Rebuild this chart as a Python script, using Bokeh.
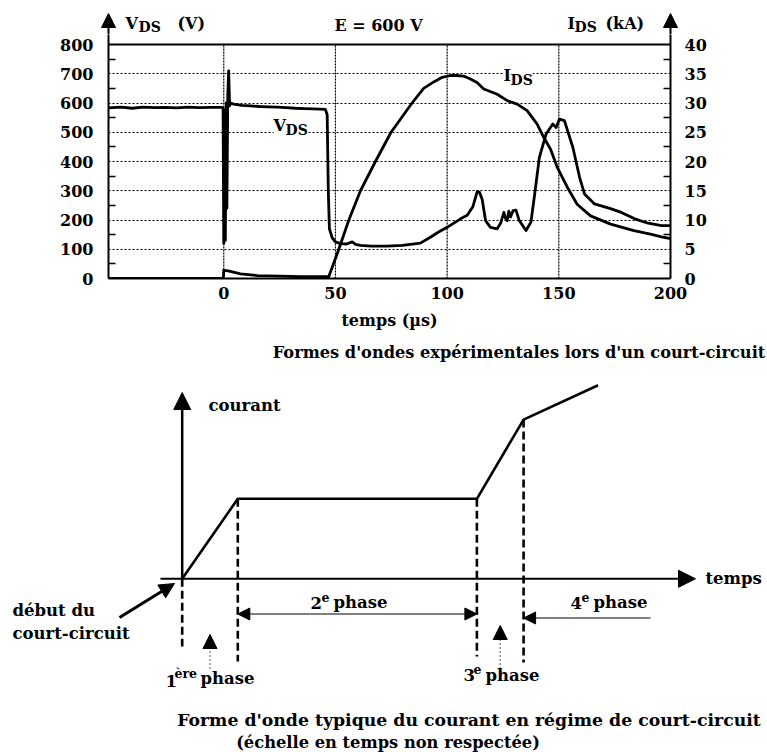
from bokeh.plotting import figure
from bokeh.models import Range1d, LinearAxis, FixedTicker, Label, Arrow, NormalHead, Span
from bokeh.embed import file_html
from bokeh.resources import INLINE

# ---------------- data ----------------
t_vds = [-51.6, -46, -41, -36, -31, -26, -21, -16, -11, -6, -1, -0.3,
         0.0, 0.4, 0.7, 1.1, 1.4, 1.8, 2.2, 2.6, 3.0, 4.5, 8, 12, 16, 20, 24, 28, 32, 36, 40, 43, 45.5,
         46.3, 46.8, 47.3, 48.5, 50, 52.2, 55, 57.5, 59, 61.2, 66, 73, 80, 88, 92.5, 96,
         100, 106, 109, 111.5, 113.5, 114.5, 115.7, 117.2, 119.4, 122.4, 124, 125.4, 126.2, 126.9,
         127.6, 128.4, 129.5, 130.8, 131.6, 132.3, 135.3, 137.5, 139, 141.3, 144.3, 147.3, 148.8,
         150.3, 152.5, 156.3, 159.3, 161.5, 166, 173.5, 178, 184, 190, 196, 200]
v_ds = [583, 586, 582, 586, 584, 585, 583, 586, 584, 585, 585, 583,
        120, 575, 130, 600, 240, 625, 710, 590, 600, 596, 592, 590, 588, 587, 586, 584, 582, 581, 580, 579, 578,
        560, 300, 170, 140, 125, 119, 118, 125, 117, 113, 111, 111, 113, 121, 141, 158,
        175, 204, 216, 245, 298, 295, 270, 198, 175, 170, 190, 226, 205, 198,
        230, 210, 232, 234, 215, 198, 164, 192, 277, 414, 494, 528, 516,
        545, 540, 448, 346, 289, 255, 238, 226, 204, 189, 181, 181]

t_ids = [-51.6, -0.2, 0.0, 2, 7.5, 15, 25, 35, 45, 47.0, 51.5, 56, 61.2, 67.9, 74.9, 84.3, 89.5, 94,
         97.8, 101.5, 104, 107.4, 110, 113.4, 116.4, 119, 122.4, 126.9, 131.4, 135.8, 140.3, 143.3,
         146.3, 149.3, 153.8, 158.2, 164.2, 173.2, 183.6, 191, 196, 200]
i_ds = [0.0, 0.0, 1.4, 1.3, 0.8, 0.5, 0.4, 0.3, 0.3, 0.3, 5.0, 10.0, 15.0, 20.0, 25.0, 30.0, 32.5, 33.6,
        34.4, 34.7, 34.7, 34.6, 34.2, 33.5, 32.4, 32.0, 31.5, 30.4, 29.8, 28.7, 26.4, 24.1,
        22.1, 19.0, 15.6, 12.7, 10.7, 9.3, 8.2, 7.6, 7.1, 6.8]

t_ticks = [0, 50, 100, 150, 200]
v_ticks = [0, 100, 200, 300, 400, 500, 600, 700, 800]
i_ticks = [0, 5, 10, 15, 20, 25, 30, 35, 40]
v_per_ka = 20  # 800 V <-> 40 kA on the shared grid

# schematic waveform (arbitrary units, time scale not respected)
phase_t = [0, 10, 53, 61.4, 74.8]
phase_i = [0, 10, 10, 19.9, 24.2]

FONT = "DejaVu Serif"
BLACK = "black"
W = 767

# ---------------- layout helpers (page pixels -> data) ----------------
X_LEFT, X_RIGHT = 108, 670          # chart frame, page px
HDR_H = 34                          # header strip height
CH_TOP, CH_BOT = 34, 278            # chart frame top/bottom, page px
Y800 = 44                           # page y of the 800 V line
KY = (CH_BOT - Y800) / 800.0
YTOP = (CH_BOT - CH_TOP) / KY
T0, T1 = -51.6, 200
KX = (X_RIGHT - X_LEFT) / (T1 - T0)

def tx(px):
    return T0 + (px - X_LEFT) / KX
def ty(py):
    return (CH_BOT - py) / KY
def ident(v):
    return v

def tlabel(fig, x, y, text, size, fx, fy, bg=None, align="left"):
    # y is the wanted baseline in page px; Bokeh sits the text a little lower
    yb = y - 0.3 * size
    lab = Label(x=fx(x), y=fy(yb), text=text, text_font=FONT, text_font_style="bold",
                text_font_size=f"{size}px", text_color=BLACK, text_baseline="alphabetic",
                text_align=align)
    if bg:
        lab.background_fill_color = bg
    fig.add_layout(lab)

def nhead(size):
    return NormalHead(size=size, fill_color=BLACK, line_color=BLACK, line_width=1)

# ---------------- header strip (axis titles and arrow tips) ----------------
h = figure(width=W, height=HDR_H, x_range=Range1d(tx(0), tx(W)), y_range=Range1d(HDR_H, 0),
           x_axis_type=None, y_axis_type=None, output_backend="svg", toolbar_location=None,
           min_border=0)
h.outline_line_color = None
for xa in (T0, T1):
    h.add_layout(Arrow(x_start=xa, y_start=HDR_H + 1, x_end=xa, y_end=13, line_width=2,
                       line_color=BLACK, end=nhead(14)))
tlabel(h, 125, 28, "V", 16, tx, ident)
tlabel(h, 138, 31, "DS", 14, tx, ident)
tlabel(h, 177, 28, "(V)", 16, tx, ident)
tlabel(h, 378, 30, "E = 600 V", 16, tx, ident, align="center")
tlabel(h, 567, 28, "I", 16, tx, ident)
tlabel(h, 574, 31, "DS", 14, tx, ident)
tlabel(h, 605, 28, "(kA)", 16, tx, ident)

# ---------------- chart: experimental waveforms ----------------
p = figure(width=W, height=304, x_range=Range1d(T0, T1), y_range=Range1d(0, YTOP),
           output_backend="svg", toolbar_location=None,
           min_border_left=X_LEFT, min_border_right=W - X_RIGHT, min_border_top=0,
           min_border_bottom=304 - (CH_BOT - CH_TOP))
p.extra_y_ranges = {"ka": Range1d(0, YTOP / v_per_ka)}
p.add_layout(LinearAxis(y_range_name="ka"), "right")

for ax in p.left + p.right + p.below:
    ax.axis_line_width = 2
    ax.axis_line_color = BLACK
    ax.major_tick_in = 0
    ax.major_tick_out = 0
    ax.minor_tick_out = 0
    ax.minor_tick_in = 0
    ax.major_label_text_font = FONT
    ax.major_label_text_font_style = "bold"
    ax.major_label_text_font_size = "16px"
    ax.major_label_text_color = BLACK

left = p.left[0]
left.ticker = FixedTicker(ticks=v_ticks, minor_ticks=[v + 50 for v in v_ticks[:-1]])
left.minor_tick_in = 7
left.minor_tick_line_width = 1.5
left.minor_tick_line_color = BLACK
left.major_label_standoff = 15

right = p.right[0]
right.ticker = FixedTicker(ticks=i_ticks, minor_ticks=[v + 2.5 for v in i_ticks[:-1]])
right.minor_tick_in = 7
right.minor_tick_line_width = 1.5
right.minor_tick_line_color = BLACK
right.major_label_standoff = 14

below = p.below[0]
below.ticker = FixedTicker(ticks=t_ticks)
below.major_label_standoff = 8
below.axis_label = "temps (µs)"
below.axis_label_text_font = FONT
below.axis_label_text_font_style = "bold"
below.axis_label_text_font_size = "16px"
below.axis_label_text_color = BLACK
below.axis_label_standoff = 9

p.xgrid.visible = False
p.ygrid.ticker = FixedTicker(ticks=v_ticks[1:-1])
p.ygrid.grid_line_color = BLACK
p.ygrid.grid_line_dash = "2 2"
p.ygrid.grid_line_width = 1.2
p.ygrid.grid_line_alpha = 1.0
# vertical dotted grid lines, stopping at the 800 V border
p.segment(x0=t_ticks[:-1], y0=[v_ticks[0]] * 4, x1=t_ticks[:-1], y1=[v_ticks[-1]] * 4,
          line_color=BLACK, line_dash="2 1", line_width=1.2)
p.add_layout(Span(location=v_ticks[-1], dimension="width", line_color=BLACK, line_width=2))

p.outline_line_color = None
p.background_fill_color = "white"
p.border_fill_color = "white"

p.line(t_vds, v_ds, line_width=2.8, color=BLACK, line_join="round")
p.line(t_ids, i_ds, line_width=2.8, color=BLACK, line_join="round", y_range_name="ka")

tlabel(p, 273, 130, "V", 16, tx, ty, bg="white")
tlabel(p, 285, 133.5, "DS", 14, tx, ty, bg="white")
tlabel(p, 503, 80, "I", 16, tx, ty, bg="white")
tlabel(p, 510, 83.5, "DS", 14, tx, ty, bg="white")

# ---------------- bottom sketch: typical short-circuit current ----------------
Q_TOP, Q_BOT = 338, 752
BX0, BKX, BY0, BKY = 181.7, 5.56, 578.3, 8.0
def bx(px):
    return (px - BX0) / BKX
def by(py):
    return (BY0 - py) / BKY

q = figure(width=W, height=Q_BOT - Q_TOP, x_range=Range1d(bx(0), bx(W)),
           y_range=Range1d(by(Q_BOT), by(Q_TOP)),
           x_axis_type=None, y_axis_type=None, output_backend="svg", toolbar_location=None,
           min_border=0)
q.outline_line_color = None
q.background_fill_color = "white"
q.border_fill_color = "white"

tlabel(q, 518.5, 357, "Formes d'ondes expérimentales lors d'un court-circuit", 16.2,
       bx, by, align="center")

q.add_layout(Arrow(x_start=0, y_start=0, x_end=0, y_end=by(392), line_width=2.5, line_color=BLACK,
                   end=nhead(17)))
q.add_layout(Arrow(x_start=bx(160), y_start=0, x_end=bx(695), y_end=0, line_width=2, line_color=BLACK,
                   end=nhead(17)))

q.line(phase_t, phase_i, line_width=2.6, color=BLACK, line_join="round")
q.segment(x0=phase_t[:4], y0=phase_i[:4], x1=phase_t[:4],
          y1=[by(646), by(661), by(656), by(662)], line_width=2.6, line_dash="8 4", color=BLACK)

q.add_layout(Arrow(x_start=phase_t[1], y_start=by(613.5), x_end=phase_t[2], y_end=by(613.5),
                   line_width=1, line_color=BLACK, start=nhead(12), end=nhead(12)))
q.add_layout(Arrow(x_start=bx(650), y_start=by(617.5), x_end=phase_t[3], y_end=by(617.5),
                   line_width=1, line_color=BLACK, end=nhead(12)))
for (ta, tb), tip in (((phase_t[0], phase_t[1]), 634), ((phase_t[2], phase_t[3]), 625)):
    xm = (ta + tb) / 2
    q.add_layout(Arrow(x_start=xm, y_start=by(668), x_end=xm, y_end=by(tip),
                       line_width=1.3, line_color=BLACK, line_dash="1 3", end=nhead(14)))
q.add_layout(Arrow(x_start=bx(119), y_start=by(617), x_end=bx(174), y_end=by(583),
                   line_width=3, line_color=BLACK, end=nhead(15)))

def blabel(x, y, text, size, align="left"):
    tlabel(q, x, y, text, size, bx, by, align=align)

blabel(208, 410, "courant", 16.5)
blabel(705, 583, "temps", 16.5)
blabel(12, 615, "début du", 16.5)
blabel(12, 638, "court-circuit", 16.5)
blabel(310, 607, "2", 16.5)
blabel(321, 600, "e", 12.5)
blabel(333, 607, "phase", 16.5)
blabel(570, 607, "4", 16.5)
blabel(581, 600, "e", 12.5)
blabel(593, 607, "phase", 16.5)
blabel(165, 685, "1", 16.5)
blabel(174, 677, "ère", 12.5)
blabel(200, 683, "phase", 16.5)
blabel(463, 679, "3", 16.5)
blabel(473, 672, "e", 12.5)
blabel(485, 680, "phase", 16.5)
blabel(468.5, 725, "Forme d'onde typique du courant en régime de court-circuit", 17.3, align="center")
blabel(387.5, 747, "(échelle en temps non respectée)", 16.3, align="center")

open("out.html", "w").write(file_html([h, p, q], INLINE))
